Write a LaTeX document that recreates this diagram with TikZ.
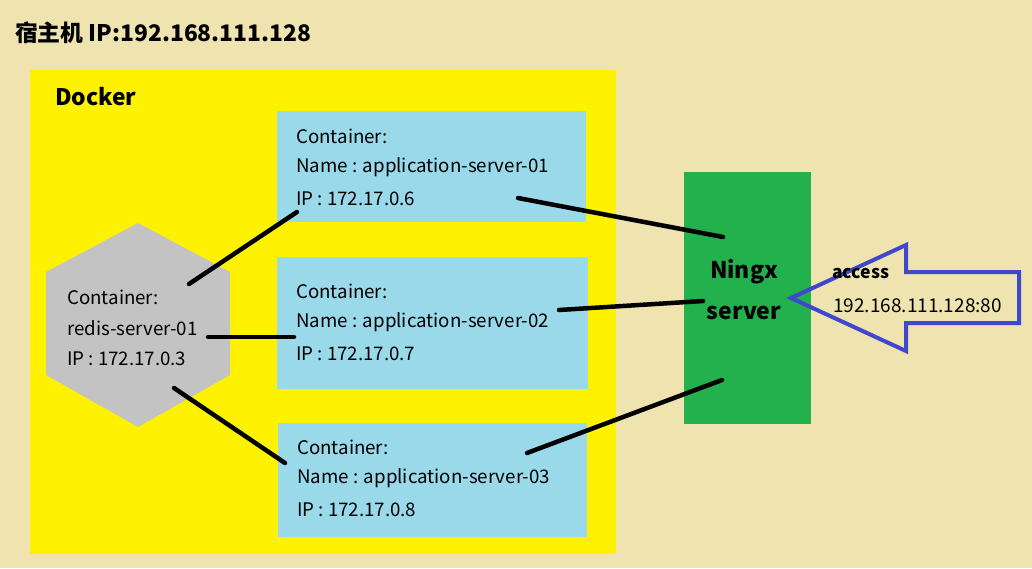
\documentclass[tikz,border=0pt]{standalone}
\usepackage{fontspec}
\setmainfont{Noto Sans CJK SC}
\usetikzlibrary{positioning}
\usetikzlibrary{calc}
\definecolor{hosttan}{RGB}{239,228,176}
\definecolor{dockeryellow}{RGB}{255,242,0}
\definecolor{boxblue}{RGB}{153,217,234}
\definecolor{redisgrey}{RGB}{195,195,195}
\definecolor{nginxgreen}{RGB}{34,177,76}
\definecolor{accessblue}{RGB}{63,72,204}
\tikzstyle{container}=[rectangle,fill=boxblue,anchor=north west,inner sep=0pt]
\tikzstyle{info}=[anchor=west,inner sep=0pt,font=\fontsize{18.7}{20}\selectfont]
\tikzstyle{heading}=[anchor=west,inner sep=0pt,font=\fontsize{22.8}{24}\selectfont\bfseries]
\tikzstyle{link} = [draw,line width=4.5pt,line cap=round]

\begin{document}
\begin{tikzpicture}[x=1pt,y=-1pt]

  \fill[hosttan] (0,0) rectangle (1032,568);
  \node[heading] (host) at (15,33) {宿主机 IP:192.168.111.128};

  % docker area
  \node[rectangle,fill=dockeryellow,anchor=north west,inner sep=0pt,
        minimum width=586pt,minimum height=484pt] (docker) at (30,70) {};
  \node[heading] (dockerlabel) at (55,97) {Docker};

  % application containers
  \foreach \x/\y/\w/\h/\name/\num/\ip/\ty in {277/111/309/111/app1/01/6/136, 277/257/311/132/app2/02/7/291, 278/423/309/114/app3/03/8/447}
  {
    \node[container,minimum width=\w pt,minimum height=\h pt] (\name) at (\x,\y) {};
    \node[info] (\name c) at (\x+19,\ty) {Container:};
    \node[info] (\name n) at (\x+19,\ty+31) {Name : application-server-\num};
    \node[info] (\name i) at (\x+19,\ty+63) {IP : 172.17.0.\ip};
  }

  % redis container
  \fill[redisgrey] (138,223) -- (230,272) -- (230,375) -- (138,427) -- (46,375) -- (46,272) -- cycle;
  \node[info] (redisc) at (67,297) {Container:};
  \node[info] (redisn) at (67,328) {redis-server-01};
  \node[info] (redisi) at (67,359) {IP : 172.17.0.3};

  % nginx
  \node[rectangle,fill=nginxgreen,anchor=north west,inner sep=0pt,
        minimum width=127pt,minimum height=252pt] (nginx) at (684,172) {};
  \node[font=\fontsize{23}{24}\selectfont\bfseries,inner sep=0pt] (nginx1) at (744,272) {Ningx};
  \node[font=\fontsize{23}{24}\selectfont\bfseries,inner sep=0pt] (nginx2) at (744,313) {server};

  % access arrow
  \draw[accessblue,line width=4pt,line join=miter] (791,298) -- (906,245) -- (906,272) -- (1019,272)
       -- (1019,323) -- (906,323) -- (906,351) -- cycle;
  \node[heading,font=\fontsize{17.6}{20}\selectfont\bfseries] (access) at (832,273) {access};
  \node[info,font=\fontsize{19}{20}\selectfont] (accessip) at (833,306) {192.168.111.128:80};

  % connectors
  \foreach \name/\x/\y in {r1/189/284, r2/208/337, r3/174/388, a1/297/212, a2/294/337, a3/285/463,
                           b1/518/198, b2/559/310, b3/527/453, n1/723/237, n2/703/301, n3/722/380}
    \coordinate (\name) at (\x,\y);

  \foreach \source/\dest in {r1/a1, r2/a2, r3/a3, b1/n1, b2/n2, b3/n3}
    \path[link] (\source) -- (\dest);

\end{tikzpicture}
\end{document}
